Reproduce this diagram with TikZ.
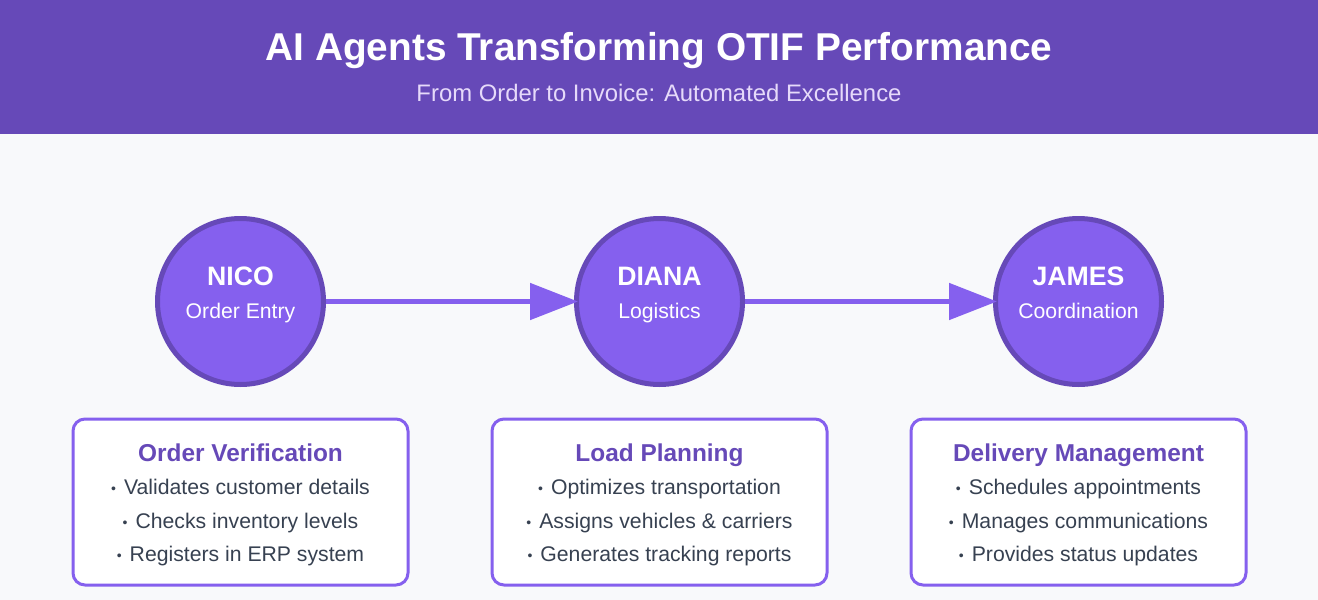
\documentclass[tikz,border=0pt]{standalone}
\usepackage{fontspec}
\setmainfont{Liberation Sans}
\usepackage{xcolor}
\usetikzlibrary{arrows.meta}
\definecolor{pagebg}{HTML}{F8F9FB}
\definecolor{headbg}{HTML}{6649B8}
\definecolor{agentfill}{HTML}{8560EE}
\definecolor{subtext}{HTML}{E6DAFA}
\definecolor{bodytext}{HTML}{374151}
\newcommand{\taskdot}{\raisebox{0.05ex}{\fontsize{10.5}{11}\selectfont •}\hspace{6pt}}
\tikzset{
    agent/.style={circle, draw=headbg, fill=agentfill, line width=3.75pt, minimum size=124.5pt, inner sep=0pt},
    task/.style={draw=agentfill, fill=white, line width=2.25pt, rounded corners=9pt, minimum width=251.25pt, minimum height=124.5pt, inner sep=0pt},
    flow/.style={draw=agentfill, line width=3.75pt, -{Triangle[length=36pt,width=27pt]}, shorten >=-3pt},
    title/.style={anchor=base, text=white, font=\fontsize{29.1}{32}\selectfont\bfseries},
    subtitle/.style={anchor=base, text=subtext, font=\fontsize{17.9}{22}\selectfont},
    agentname/.style={anchor=base, text=white, font=\fontsize{20}{22}\selectfont\bfseries},
    agentrole/.style={anchor=base, text=white, font=\fontsize{15.9}{18}\selectfont},
    tasktitle/.style={anchor=base, text=headbg, font=\fontsize{18.3}{22}\selectfont\bfseries},
    taskline/.style={anchor=base, text=bodytext, font=\fontsize{15.9}{18}\selectfont}
}

\begin{document}
\begin{tikzpicture}[x=0.75pt, y=-0.75pt]
    \useasboundingbox (0,0) rectangle (1318,600);
    \fill[pagebg] (0,0) rectangle (1318,600);
    \fill[headbg] (0,0) rectangle (1318,134);
    \node[title] (head) at (659,60) {AI Agents Transforming OTIF Performance};
    \node[subtitle] (subhead) at (659,101) {From Order to Invoice: Automated Excellence};

    % Nico
    \node[agent] (nico) at (240.5,301.5) {};
    \node[agentname] (niconame) at (240.5,285) {NICO};
    \node[agentrole] (nicorole) at (240.5,318) {Order Entry};
    \node[task] (verify) at (240.5,502) {};
    \node[tasktitle] (verifyhead) at (240.5,461) {Order Verification};
    \node[taskline] (verifya) at (240.5,494) {\taskdot Validates customer details};
    \node[taskline] (verifyb) at (240.5,528) {\taskdot Checks inventory levels};
    \node[taskline] (verifyc) at (240.5,561) {\taskdot Registers in ERP system};

    % Diana
    \node[agent] (diana) at (659.5,301.5) {};
    \node[agentname] (diananame) at (659.5,285) {DIANA};
    \node[agentrole] (dianarole) at (659.5,318) {Logistics};
    \node[task] (load) at (659.5,502) {};
    \node[tasktitle] (loadhead) at (659.5,461) {Load Planning};
    \node[taskline] (loada) at (659.5,494) {\taskdot Optimizes transportation};
    \node[taskline] (loadb) at (659.5,528) {\taskdot Assigns vehicles \& carriers};
    \node[taskline] (loadc) at (659.5,561) {\taskdot Generates tracking reports};

    % James
    \node[agent] (james) at (1078.5,301.5) {};
    \node[agentname] (jamesname) at (1078.5,285) {JAMES};
    \node[agentrole] (jamesrole) at (1078.5,318) {Coordination};
    \node[task] (deliver) at (1078.5,502) {};
    \node[tasktitle] (deliverhead) at (1078.5,461) {Delivery Management};
    \node[taskline] (delivera) at (1078.5,494) {\taskdot Schedules appointments};
    \node[taskline] (deliverb) at (1078.5,528) {\taskdot Manages communications};
    \node[taskline] (deliverc) at (1078.5,561) {\taskdot Provides status updates};

    \draw[flow] (nico) -- (diana);
    \draw[flow] (diana) -- (james);
\end{tikzpicture}
\end{document}
